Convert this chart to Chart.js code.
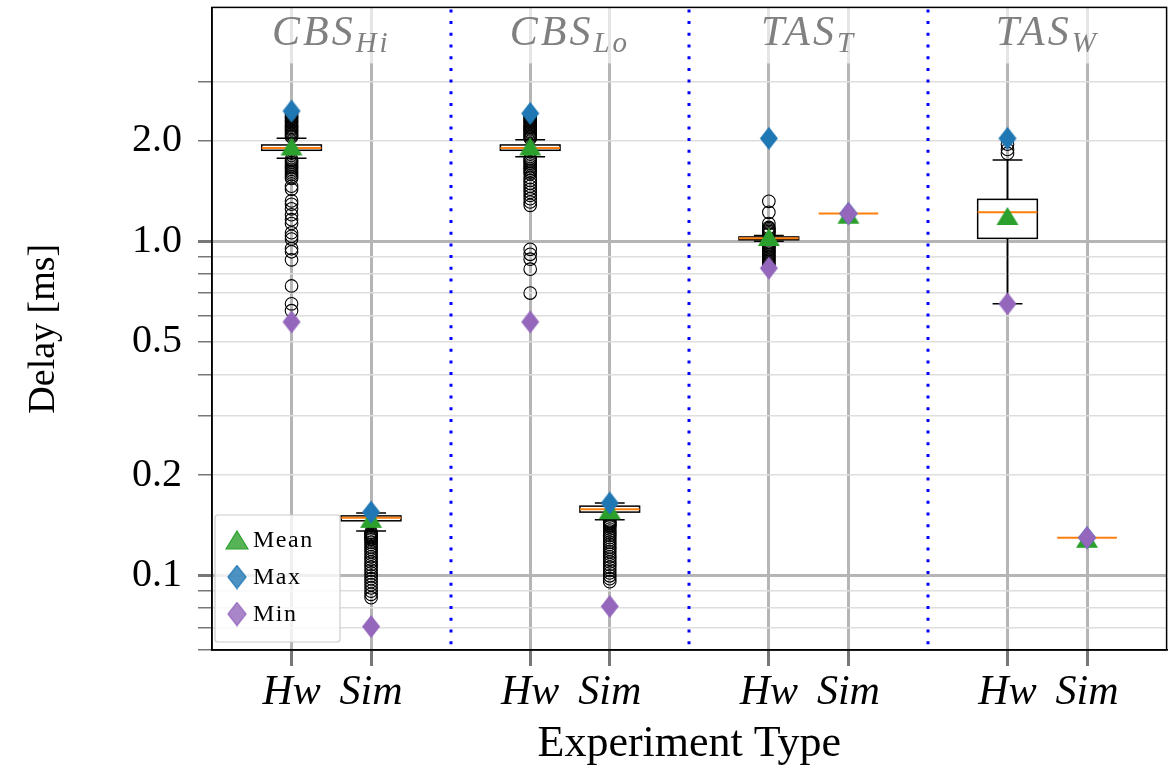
<!DOCTYPE html>
<html>
<head>
<meta charset="utf-8">
<script src="https://cdn.jsdelivr.net/npm/chart.js@4.4.0/dist/chart.umd.min.js"></script>
<style>
  html, body { margin: 0; padding: 0; background: #fff; overflow: hidden; }
</style>
</head>
<body>
<canvas id="delayChart" width="1174" height="777"></canvas>
<script>
// groups (title + subscript) and experiment types
const groupNames = ["CBS", "CBS", "TAS", "TAS"];
const groupSubs = ["Hi", "Lo", "T", "W"];
const groupCenters = [1.5, 4.5, 7.5, 10.5];
const separators = [3, 6, 9];
const typeLabels = ["Hw", "Sim", "Hw", "Sim", "Hw", "Sim", "Hw", "Sim"];
const positions = [1, 2, 4, 5, 7, 8, 10, 11];

// box statistics, delay in ms
const q1 = [1.87, 0.146, 1.87, 0.155, 1.01, 1.21, 1.02, 0.13];
const medians = [1.90, 0.149, 1.90, 0.158, 1.02, 1.21, 1.22, 0.13];
const q3 = [1.94, 0.151, 1.94, 0.1615, 1.03, 1.21, 1.334, 0.13];
const whiskerLo = [1.77, 0.136, 1.79, 0.147, 1.0, 1.21, 0.65, 0.13];
const whiskerHi = [2.03, 0.154, 2.01, 0.165, 1.04, 1.21, 1.75, 0.13];
const means = [1.92, 0.148, 1.92, 0.157, 1.03, 1.20, 1.19, 0.129];
const maxs = [2.45, 0.155, 2.41, 0.165, 2.03, 1.21, 2.03, 0.13];
const mins = [0.574, 0.0705, 0.574, 0.081, 0.831, 1.21, 0.65, 0.13];

// fliers per box
const outliers = [
  [2.40, 2.37, 2.35, 2.33, 2.30, 2.28, 2.26, 2.23, 2.21, 2.19, 2.17, 2.15, 2.13, 2.11, 2.09, 2.07, 2.05,
   1.76, 1.74, 1.72, 1.70, 1.68, 1.66, 1.64, 1.62, 1.60, 1.58, 1.56, 1.54,
   1.46, 1.43, 1.32, 1.29, 1.25, 1.20, 1.16, 1.13, 1.06, 1.035, 1.015, 0.95, 0.93, 0.88, 0.735, 0.65, 0.62],
  [0.135, 0.134, 0.133, 0.132, 0.131, 0.130, 0.129, 0.128, 0.126, 0.124, 0.122, 0.120, 0.118, 0.116, 0.114,
   0.112, 0.110, 0.108, 0.106, 0.104, 0.102, 0.100, 0.098, 0.096, 0.094, 0.092, 0.090, 0.088, 0.086],
  [2.38, 2.35, 2.33, 2.30, 2.28, 2.26, 2.23, 2.21, 2.19, 2.17, 2.15, 2.13, 2.11, 2.09, 2.07, 2.05, 2.03,
   1.77, 1.75, 1.73, 1.71, 1.69, 1.67, 1.65, 1.63, 1.61, 1.59,
   1.55, 1.52, 1.49, 1.46, 1.43, 1.40, 1.37, 1.34, 1.31, 1.28,
   0.946, 0.914, 0.884, 0.825, 0.70],
  [0.146, 0.145, 0.144, 0.143, 0.142, 0.141, 0.140, 0.138, 0.136, 0.134, 0.132, 0.130, 0.128, 0.126, 0.124,
   0.122, 0.120, 0.118, 0.116, 0.114, 0.112, 0.110, 0.108, 0.106, 0.104, 0.102, 0.100, 0.098, 0.096],
  [1.316, 1.22, 1.13, 1.10, 1.09, 1.08, 1.07, 1.06, 1.05,
   0.99, 0.98, 0.97, 0.96, 0.95, 0.94, 0.93, 0.92, 0.91, 0.90, 0.89, 0.88, 0.87, 0.86, 0.85],
  [],
  [1.83, 1.88, 1.95],
  []
];

// y axis
const yTicks = [0.06, 0.07, 0.08, 0.09, 0.1, 0.2, 0.3, 0.4, 0.5, 0.6, 0.7, 0.8, 0.9, 1, 2, 3];
const yLabelled = [0.1, 0.2, 0.5, 1, 2];
const yMajor = [0.1, 1];

const SERIF = "'Liberation Serif', 'DejaVu Serif', serif";
const BOX_HALF = 0.375;

function markerCanvas(kind, fill, stroke) {
  const c = document.createElement("canvas");
  const w = kind === "tri" ? 22 : 18, h = kind === "tri" ? 18 : 23;
  c.width = w + 2; c.height = h + 2;
  const g = c.getContext("2d");
  g.beginPath();
  if (kind === "tri") {
    g.moveTo(1 + w / 2, 1); g.lineTo(1 + w, 1 + h); g.lineTo(1, 1 + h);
  } else {
    g.moveTo(1 + w / 2, 1); g.lineTo(1 + w, 1 + h / 2); g.lineTo(1 + w / 2, 1 + h); g.lineTo(1, 1 + h / 2);
  }
  g.closePath();
  g.fillStyle = fill; g.fill();
  if (stroke) { g.strokeStyle = stroke; g.lineWidth = 1.2; g.stroke(); }
  return c;
}

const meanMark = markerCanvas("tri", "#2ca02c");
const maxMark = markerCanvas("dia", "#1f77b4");
const minMark = markerCanvas("dia", "#9467bd");
const legendMarks = [
  [markerCanvas("tri", "rgba(44,160,44,0.8)", "#2ca02c"), "Mean"],
  [markerCanvas("dia", "rgba(31,119,180,0.8)", "#1f77b4"), "Max"],
  [markerCanvas("dia", "rgba(148,103,189,0.8)", "#9467bd"), "Min"]
];

const toPoints = arr => arr.map((v, i) => ({ x: positions[i], y: v }));
const flierPoints = outliers.flatMap((arr, i) => arr.map(v => ({ x: positions[i], y: v })));

const boxPlugin = {
  id: "boxes",
  beforeDatasetsDraw(chart) {
    const { ctx, chartArea, scales: { x, y } } = chart;
    ctx.save();
    // group titles on a faded white box
    groupNames.forEach((name, i) => {
      const cx = x.getPixelForValue(groupCenters[i]);
      ctx.letterSpacing = "3px";
      ctx.font = "italic 42px " + SERIF;
      const w1 = ctx.measureText(name).width;
      ctx.font = "italic 29px " + SERIF;
      const w2 = ctx.measureText(groupSubs[i]).width;
      const start = cx - (w1 + w2) / 2;
      ctx.fillStyle = "rgba(255,255,255,0.65)";
      ctx.fillRect(start - 8, chartArea.top, w1 + w2 + 16, 56);
      ctx.fillStyle = "#808080";
      ctx.font = "italic 42px " + SERIF;
      ctx.fillText(name, start, 45);
      ctx.font = "italic 29px " + SERIF;
      ctx.fillText(groupSubs[i], start + w1, 52);
    });
    ctx.letterSpacing = "0px";
    // dotted group separators
    ctx.strokeStyle = "#0000ff";
    ctx.lineWidth = 3;
    ctx.setLineDash([3, 8.7]);
    separators.forEach(s => {
      const px = Math.round(x.getPixelForValue(s));
      ctx.beginPath();
      ctx.moveTo(px, chartArea.top + 2);
      ctx.lineTo(px, chartArea.bottom);
      ctx.stroke();
    });
    ctx.setLineDash([]);
    // boxes, whiskers, medians
    positions.forEach((p, i) => {
      const cx = x.getPixelForValue(p);
      const hw = x.getPixelForValue(p + BOX_HALF) - cx;
      const yq1 = y.getPixelForValue(q1[i]), yq3 = y.getPixelForValue(q3[i]);
      const ylo = y.getPixelForValue(whiskerLo[i]), yhi = y.getPixelForValue(whiskerHi[i]);
      const ymed = y.getPixelForValue(medians[i]);
      ctx.strokeStyle = "#000";
      ctx.lineWidth = 1.5;
      if (whiskerHi[i] > whiskerLo[i]) {
        ctx.beginPath();
        ctx.moveTo(cx, yq3); ctx.lineTo(cx, yhi);
        ctx.moveTo(cx, yq1); ctx.lineTo(cx, ylo);
        ctx.moveTo(cx - hw / 2, yhi); ctx.lineTo(cx + hw / 2, yhi);
        ctx.moveTo(cx - hw / 2, ylo); ctx.lineTo(cx + hw / 2, ylo);
        ctx.stroke();
      }
      if (q3[i] > q1[i]) {
        ctx.fillStyle = "#fff";
        ctx.fillRect(cx - hw, yq3, 2 * hw, yq1 - yq3);
        ctx.strokeRect(cx - hw, yq3, 2 * hw, yq1 - yq3);
      }
      ctx.strokeStyle = "#ff7f0e";
      ctx.lineWidth = 2;
      ctx.beginPath();
      ctx.moveTo(cx - hw, ymed); ctx.lineTo(cx + hw, ymed);
      ctx.stroke();
    });
    ctx.restore();
  },
  afterDatasetsDraw(chart) {
    const { ctx, chartArea } = chart;
    ctx.save();
    // legend, lower left
    const lx = chartArea.left + 3, ly = chartArea.bottom - 135, lw = 125, lh = 127;
    ctx.fillStyle = "rgba(255,255,255,0.8)";
    ctx.strokeStyle = "#cccccc";
    ctx.lineWidth = 1.2;
    ctx.beginPath();
    ctx.roundRect(lx, ly, lw, lh, 3);
    ctx.fill();
    ctx.stroke();
    ctx.font = "24px " + SERIF;
    ctx.letterSpacing = "1.5px";
    ctx.fillStyle = "#000";
    ctx.textBaseline = "middle";
    legendMarks.forEach(([img, label], k) => {
      const my = ly + 25 + k * 37;
      ctx.drawImage(img, lx + 22 - img.width / 2, my - img.height / 2);
      ctx.fillText(label, lx + 38, my + 1);
    });
    ctx.restore();
  },
  afterDraw(chart) {
    const { ctx, chartArea } = chart;
    ctx.save();
    ctx.strokeStyle = "#000";
    ctx.lineWidth = 1.5;
    ctx.strokeRect(chartArea.left, chartArea.top, chartArea.right - chartArea.left, chartArea.bottom - chartArea.top);
    ctx.restore();
  }
};

new Chart(document.getElementById("delayChart"), {
  type: "scatter",
  data: {
    datasets: [
      { label: "Min", data: toPoints(mins), pointStyle: minMark, order: 0 },
      { label: "Max", data: toPoints(maxs), pointStyle: maxMark, order: 1 },
      { label: "Mean", data: toPoints(means), pointStyle: meanMark, order: 2 },
      {
        label: "Outliers", data: flierPoints, order: 3,
        pointStyle: "circle", pointRadius: 6.3, borderColor: "#000", backgroundColor: "rgba(0,0,0,0)", borderWidth: 1.1
      }
    ]
  },
  options: {
    responsive: false,
    animation: false,
    devicePixelRatio: 1,
    layout: { padding: { top: 5, right: 2, left: 0, bottom: 0 } },
    plugins: { legend: { display: false }, tooltip: { enabled: false } },
    scales: {
      x: {
        type: "linear", min: 0, max: 12,
        afterBuildTicks: s => { s.ticks = positions.map(v => ({ value: v })); },
        afterFit: s => { s.height = 127; s.paddingLeft = 0; s.paddingRight = 0; },
        ticks: {
          callback: (v, i) => typeLabels[i],
          font: { family: SERIF, size: 42, style: "italic" },
          color: "#000", maxRotation: 0, autoSkip: false, padding: 2
        },
        grid: { color: "#b5b5b5", lineWidth: 3, tickColor: "#777", tickLength: 16 },
        border: { display: true, color: "#000", width: 1.5 },
        title: {
          display: true, text: "Experiment Type", color: "#000",
          font: { family: SERIF, size: 44, lineHeight: 1.32 }
        }
      },
      y: {
        type: "logarithmic", min: 0.06, max: 5,
        afterBuildTicks: s => { s.ticks = yTicks.map(v => ({ value: v })); },
        afterFit: s => { s.width = 212; s.paddingTop = 0; s.paddingBottom = 0; },
        ticks: {
          callback: v => yLabelled.includes(v) ? v.toFixed(1) : "",
          font: { family: SERIF, size: 40 },
          color: "#000", padding: 16, autoSkip: false
        },
        grid: {
          color: c => yMajor.includes(c.tick.value) ? "#b5b5b5" : "#dedede",
          lineWidth: c => yMajor.includes(c.tick.value) ? 3 : 1.5,
          tickColor: "#777", tickLength: 14
        },
        border: { display: true, color: "#000", width: 1.5 },
        title: {
          display: true, text: "Delay [ms]", color: "#000",
          font: { family: SERIF, size: 38, lineHeight: 2.1 }
        }
      }
    }
  },
  plugins: [boxPlugin]
});
</script>
</body>
</html>
